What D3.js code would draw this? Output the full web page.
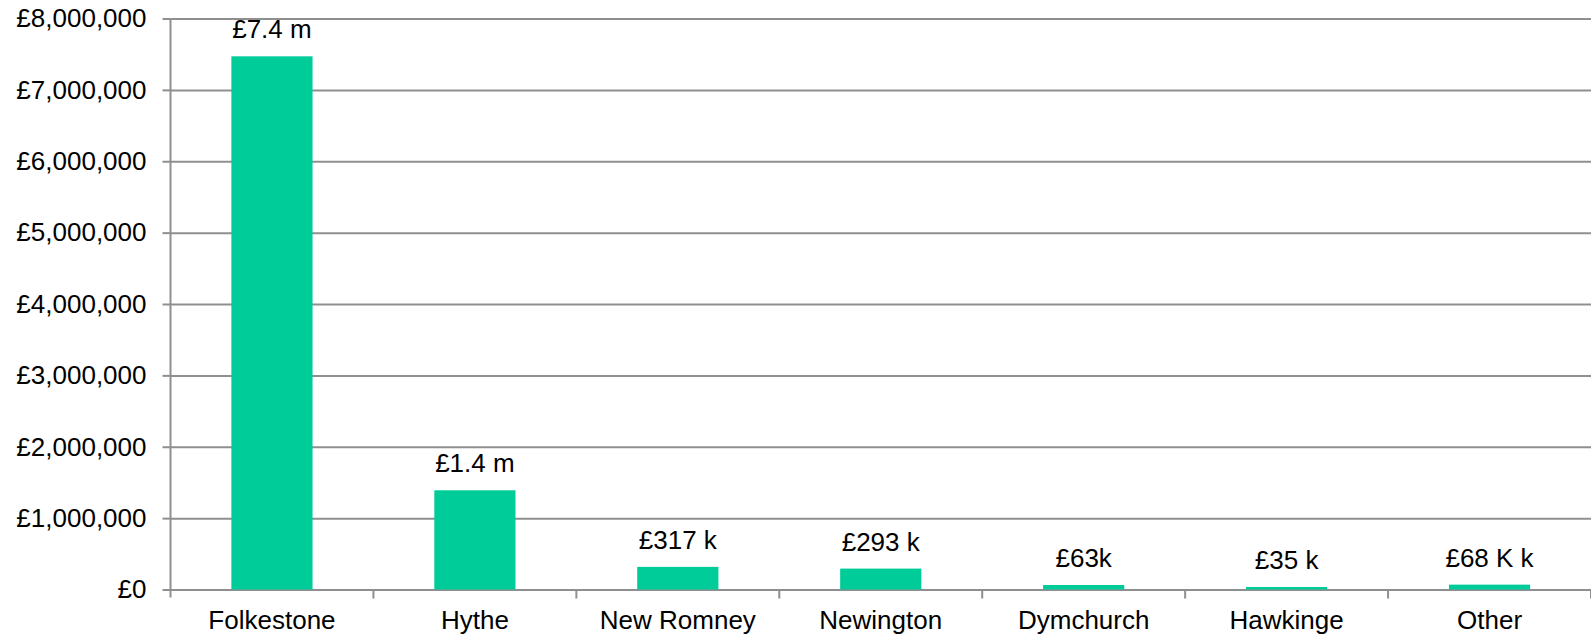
<!DOCTYPE html>
<html>
<head>
<meta charset="utf-8">
<script src="https://cdn.jsdelivr.net/npm/d3@7"></script>
<style>
  html, body { margin: 0; padding: 0; background: #fff; }
  svg { display: block; font-family: "Liberation Sans", Arial, sans-serif; }
</style>
</head>
<body>
<svg id="chart" width="1591" height="637"></svg>
<script>
// Income by town (GBP)
const categories = ["Folkestone", "Hythe", "New Romney", "Newington", "Dymchurch", "Hawkinge", "Other"];
const values = [7470000, 1390000, 317000, 293000, 63000, 35000, 68000];
const valueLabels = ["£7.4 m", "£1.4 m", "£317 k", "£293 k", "£63k", "£35 k", "£68 K k"];
const yTicks = [0, 1000000, 2000000, 3000000, 4000000, 5000000, 6000000, 7000000, 8000000];

const svg = d3.select("#chart");
const W = 1591, H = 637;
const margin = { top: 18.5, right: 0, bottom: H - 589.5, left: 170.5 };
const width = W - margin.left - margin.right;
const height = H - margin.top - margin.bottom;
const fontSize = 26;

const g = svg.append("g").attr("transform", `translate(${margin.left},${margin.top})`);

const x = d3.scaleBand().domain(categories).range([0, width]).paddingInner(0.6).paddingOuter(0.3);
const y = d3.scaleLinear().domain([0, 8000000]).range([height, 0]);

const gridColor = "#8f8f8f";
const fmt = v => "£" + d3.format(",")(v);

// horizontal gridlines
g.append("g")
  .call(d3.axisLeft(y).tickValues(yTicks).tickSize(-width).tickFormat(""))
  .call(a => a.select(".domain").remove())
  .call(a => a.selectAll("line").attr("stroke", gridColor).attr("stroke-width", 2));

// y axis with tick labels
g.append("g")
  .call(d3.axisLeft(y).tickValues(yTicks).tickSize(8).tickSizeOuter(0).tickPadding(16).tickFormat(fmt))
  .call(a => a.select(".domain").remove())
  .call(a => a.selectAll("line").attr("stroke", gridColor).attr("stroke-width", 2))
  .call(a => a.selectAll("text").attr("font-size", fontSize).attr("fill", "#000")
    .attr("font-family", "Liberation Sans, Arial, sans-serif"));

// vertical axis line
g.append("line")
  .attr("x1", 0).attr("x2", 0)
  .attr("y1", 0).attr("y2", height + 8)
  .attr("stroke", gridColor).attr("stroke-width", 2);

// category boundary ticks on the x axis
const step = x.step();
const boundaries = d3.range(categories.length + 1).map(i => x(categories[0]) - step * x.paddingOuter() + i * step);
g.append("g").selectAll("line")
  .data(boundaries.slice(1))
  .join("line")
  .attr("x1", d => d).attr("x2", d => d)
  .attr("y1", height).attr("y2", height + 9)
  .attr("stroke", gridColor).attr("stroke-width", 2);

// x axis category labels
g.append("g")
  .attr("transform", `translate(0,${height})`)
  .call(d3.axisBottom(x).tickSize(0).tickPadding(21))
  .call(a => a.select(".domain").remove())
  .call(a => a.selectAll("text").attr("font-size", fontSize).attr("fill", "#000")
    .attr("font-family", "Liberation Sans, Arial, sans-serif"));

// bars
g.append("g").selectAll("rect")
  .data(values)
  .join("rect")
  .attr("x", (d, i) => x(categories[i]))
  .attr("width", x.bandwidth())
  .attr("y", d => y(d))
  .attr("height", d => height - y(d))
  .attr("fill", "#00cc99");

// value labels
g.append("g").selectAll("text")
  .data(values)
  .join("text")
  .attr("x", (d, i) => x(categories[i]) + x.bandwidth() / 2)
  .attr("y", d => y(d) - 18)
  .attr("text-anchor", "middle")
  .attr("font-size", fontSize)
  .attr("fill", "#000")
  .text((d, i) => valueLabels[i]);
</script>
</body>
</html>
